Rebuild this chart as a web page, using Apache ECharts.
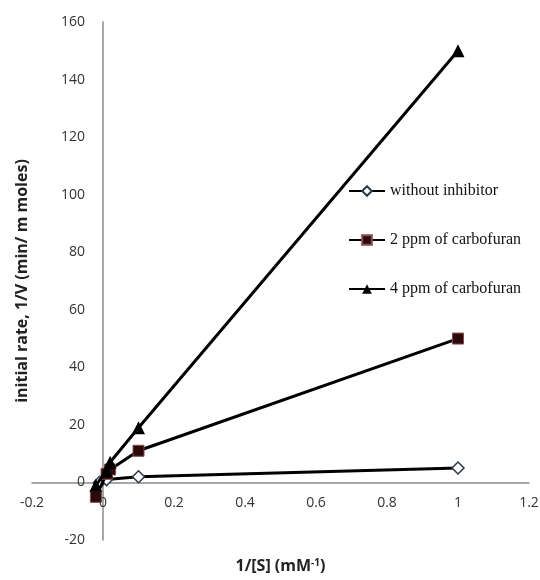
<!DOCTYPE html>
<html>
<head>
<meta charset="utf-8">
<script src="https://cdn.jsdelivr.net/npm/echarts@6/dist/echarts.min.js"></script>
<style>
  html, body { margin: 0; padding: 0; background: #fff; }
  #chart { width: 540px; height: 580px; }
</style>
</head>
<body>
<div id="chart"></div>
<script>
// Lineweaver-Burk plot: 1/V against 1/[S]
const seriesNames = ['without inhibitor', '2 ppm of carbofuran', '4 ppm of carbofuran'];
const withoutInhibitor = [[-0.01, 0], [0.01, 1], [0.1, 2], [1, 5]];
const carbofuran2ppm = [[-0.02, -5], [0.01, 3], [0.02, 4.5], [0.1, 11], [1, 50]];
const carbofuran4ppm = [[-0.02, -1], [0.01, 4], [0.02, 7], [0.1, 19], [1, 150]];
const xTicks = { min: -0.2, max: 1.2, step: 0.2 };
const yTicks = { min: -20, max: 160, step: 20 };

const W = 540, H = 580;
const grid = { left: 32, right: 11, top: 22, bottom: 40 };

// The axes cross at the origin (Excel style): shift each axis, with its labels,
// from the grid edge to the zero line of the other axis.
const plotW = W - grid.left - grid.right;
const plotH = H - grid.top - grid.bottom;
const yAxisShift = -plotW * (0 - xTicks.min) / (xTicks.max - xTicks.min);
const xAxisShift = -plotH * (0 - yTicks.min) / (yTicks.max - yTicks.min);

const chart = echarts.init(document.getElementById('chart'), null, { renderer: 'canvas' });

const tickFont = { fontFamily: 'Open Sans', fontSize: 14, color: '#333' };
const titleFont = {
  fontFamily: 'Open Sans', fontSize: 16, fontWeight: 'bold', color: '#222',
  rich: {
    sup: { fontFamily: 'Open Sans', fontSize: 10, fontWeight: 'bold', color: '#222', verticalAlign: 'top', padding: [0, 0, 6, 0] }
  }
};

chart.setOption({
  animation: false,
  backgroundColor: '#fff',
  grid: Object.assign({ containLabel: false, outerBoundsMode: 'none' }, grid),
  legend: {
    orient: 'vertical',
    left: 343,
    top: 178,
    itemGap: 33,
    itemWidth: 36,
    itemHeight: 12,
    textStyle: { fontFamily: 'Liberation Serif', fontSize: 16, color: '#111' },
    data: seriesNames
  },
  xAxis: {
    type: 'value',
    min: xTicks.min,
    max: xTicks.max,
    interval: xTicks.step,
    offset: xAxisShift,
    name: '1/[S] (mM{sup|-1})',
    nameLocation: 'middle',
    nameGap: 76,
    nameTextStyle: titleFont,
    axisLine: { onZero: false, lineStyle: { color: '#8a8a8a', width: 1.5 } },
    axisTick: { show: false },
    splitLine: { show: false },
    axisLabel: Object.assign({ margin: 14, formatter: v => String(Math.round(v * 10) / 10) }, tickFont)
  },
  yAxis: {
    type: 'value',
    min: yTicks.min,
    max: yTicks.max,
    interval: yTicks.step,
    offset: yAxisShift,
    name: 'initial rate, 1/V (min/ m moles)',
    nameLocation: 'middle',
    nameGap: 73,
    nameTextStyle: titleFont,
    axisLine: { onZero: false, lineStyle: { color: '#8a8a8a', width: 1.5 } },
    axisTick: { show: false },
    splitLine: { show: false },
    axisLabel: Object.assign({ margin: 18 }, tickFont)
  },
  series: [
    {
      name: seriesNames[0],
      type: 'line',
      data: withoutInhibitor,
      symbol: 'diamond',
      symbolSize: 12,
      lineStyle: { color: '#000', width: 3 },
      itemStyle: { color: '#fff', borderColor: '#2a3a4a', borderWidth: 1.5 },
      z: 3
    },
    {
      name: seriesNames[1],
      type: 'line',
      data: carbofuran2ppm,
      symbol: 'rect',
      symbolSize: 11,
      lineStyle: { color: '#000', width: 3 },
      itemStyle: { color: '#2a0a0a', borderColor: '#8a4a4a', borderWidth: 1 },
      z: 4
    },
    {
      name: seriesNames[2],
      type: 'line',
      data: carbofuran4ppm,
      symbol: 'triangle',
      symbolSize: 13,
      lineStyle: { color: '#000', width: 3 },
      itemStyle: { color: '#000' },
      z: 5
    }
  ]
});
</script>
</body>
</html>
